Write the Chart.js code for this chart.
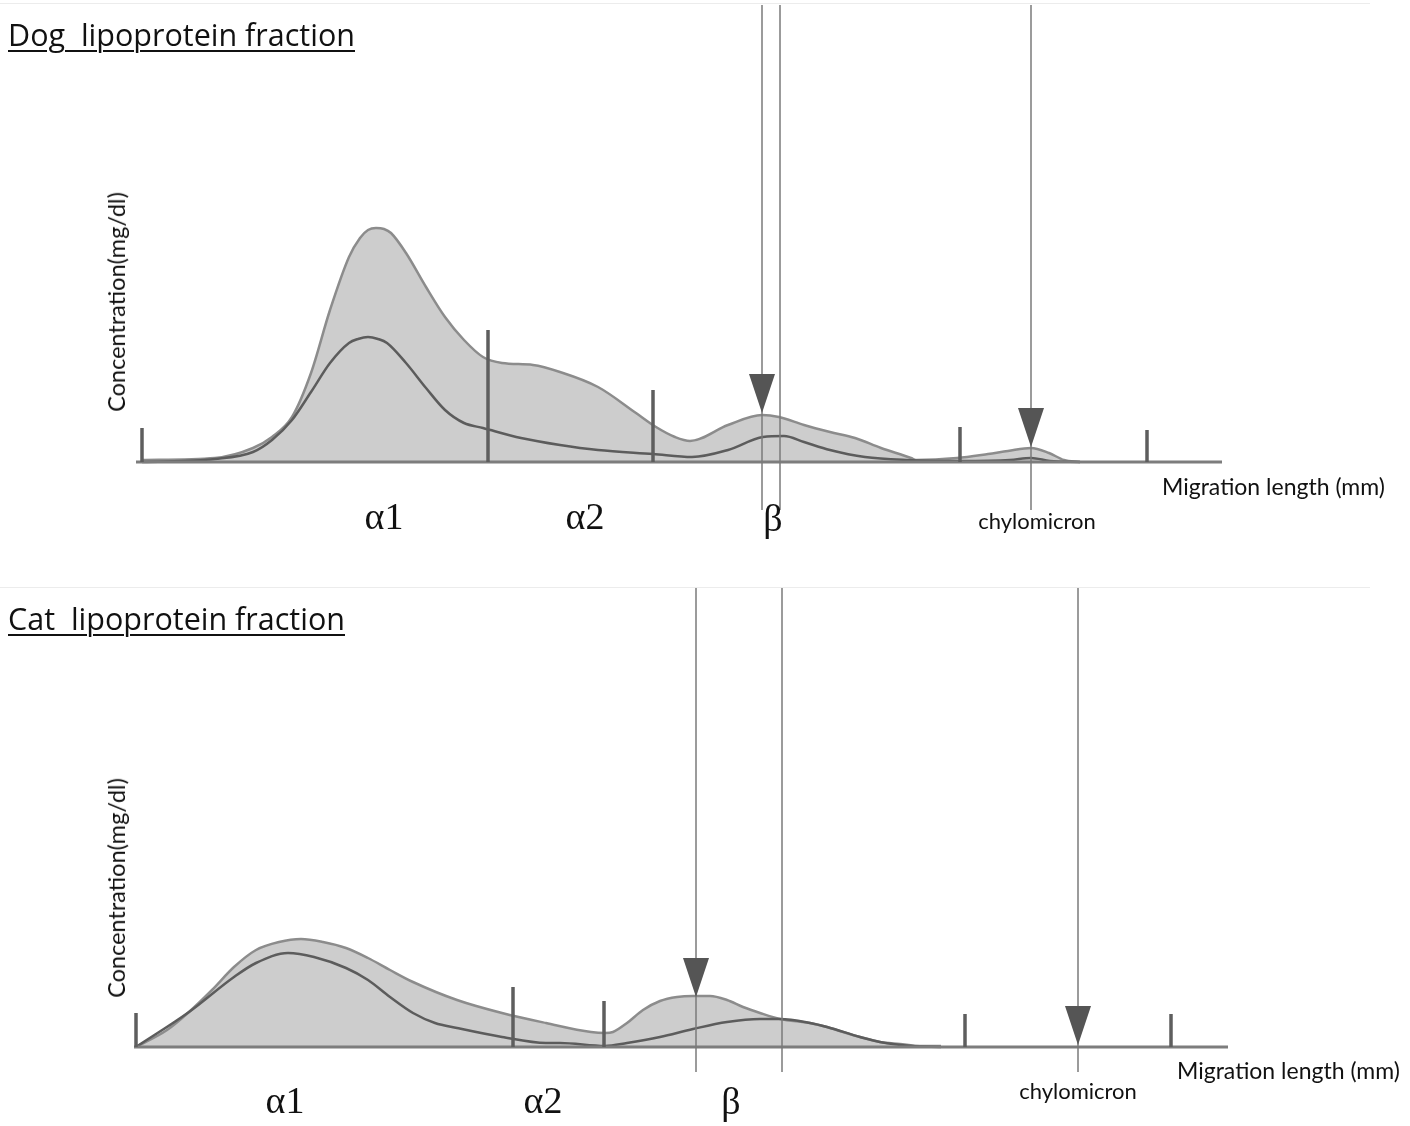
<!DOCTYPE html>
<html>
<head>
<meta charset="utf-8">
<script src="https://cdn.jsdelivr.net/npm/chart.js@4.4.1/dist/chart.umd.min.js"></script>
<style>
  body { margin: 0; background: #fff; width: 1410px; height: 1126px; position: relative; overflow: hidden; }
  canvas { position: absolute; left: 0; }
  .txt { position: absolute; white-space: nowrap; color: #111; }
  .title { font-family: "Open Sans", sans-serif; font-size: 30.5px; text-decoration: underline; text-decoration-thickness: 2px; text-underline-offset: 4px; left: 8px; }
  .ytitle { font-family: Lato, sans-serif; font-size: 23.5px; transform: translate(-50%, -50%) rotate(-90deg); }
  .xtitle { font-family: Lato, sans-serif; font-size: 23px; transform: translateY(-50%); }
  .frac { font-family: "Liberation Serif", serif; font-size: 38px; transform: translate(-50%, -50%); }
  .chylo { font-family: Lato, sans-serif; font-size: 22px; transform: translate(-50%, -50%); }
  .frame { position: absolute; left: 0; width: 1370px; border-top: 1px solid #ececec; }
</style>
</head>
<body>
<div class="frame" style="top:3px"></div>
<div class="frame" style="top:587px"></div>

<canvas id="dog" width="1410" height="570" style="top:0"></canvas>
<canvas id="cat" width="1410" height="546" style="top:580px"></canvas>

<div class="txt title" style="top:13px">Dog&nbsp;&nbsp;lipoprotein fraction</div>
<div class="txt ytitle" style="left:116px; top:302px">Concentration(mg/dl)</div>
<div class="txt xtitle" style="left:1162px; top:486px">Migration length (mm)</div>
<div class="txt frac" style="left:384px; top:516px">α1</div>
<div class="txt frac" style="left:585px; top:516px">α2</div>
<div class="txt frac" style="left:773px; top:518px">β</div>
<div class="txt chylo" style="left:1037px; top:520px">chylomicron</div>

<div class="txt title" style="top:597px">Cat&nbsp;&nbsp;lipoprotein fraction</div>
<div class="txt ytitle" style="left:116px; top:888px">Concentration(mg/dl)</div>
<div class="txt xtitle" style="left:1177px; top:1070px">Migration length (mm)</div>
<div class="txt frac" style="left:285px; top:1100px">α1</div>
<div class="txt frac" style="left:543px; top:1100px">α2</div>
<div class="txt frac" style="left:731px; top:1101px">β</div>
<div class="txt chylo" style="left:1078px; top:1090px">chylomicron</div>

<script>
// Dog: migration position and concentration (arbitrary units)
const dogTotalX = [0, 73, 111, 130, 150, 169, 188, 207, 218, 226, 234, 242, 249, 264, 284, 303, 322, 341, 360, 391, 418, 456, 494, 514, 533, 548, 586, 620, 637, 662, 688, 713, 739, 769, 774, 815, 846, 866, 889, 907, 922, 938];
const dogTotalY = [2, 4, 14, 25, 45, 89, 152, 205, 224, 232, 234, 233, 229, 209, 175, 145, 122, 105, 99, 97, 90, 75, 49, 35, 25, 21, 37, 47, 45, 37, 30, 24, 14, 4, 2, 4, 8, 11, 14, 9, 2, 0];
const dogInnerX = [0, 73, 111, 130, 150, 169, 188, 207, 216, 226, 236, 245, 264, 284, 303, 322, 341, 379, 418, 456, 511, 550, 586, 621, 642, 662, 688, 723, 764, 818, 868, 889, 908, 938];
const dogInnerY = [0, 3, 10, 22, 42, 70, 99, 119, 123, 125, 123, 119, 99, 74, 52, 39, 34, 24, 17, 12, 8, 5, 12, 25, 26, 20, 12, 5, 2, 1, 2, 4, 1, 0];
const dogMarkerX = [0, 346, 511, 818, 1005];
const dogMarkerH = [34, 132, 72, 35, 32];
const dogArrowX = [620, 638, 889];
const dogArrowTip = [49, null, 15];

// Cat
const catTotalX = [0, 31, 53, 76, 98, 120, 143, 165, 187, 210, 232, 254, 277, 321, 366, 410, 455, 469, 477, 491, 507, 524, 541, 557, 574, 591, 607, 624, 644, 674, 691, 707, 724, 744, 764, 784, 805];
const catTotalY = [0, 17, 35, 57, 80, 97, 105, 108, 105, 99, 89, 77, 65, 47, 34, 24, 15, 14, 15, 24, 37, 46, 50, 51, 51, 47, 40, 34, 28, 24, 20, 15, 10, 5, 3, 1, 1];
const catInnerX = [0, 53, 98, 120, 152, 178, 210, 232, 254, 277, 299, 321, 366, 410, 424, 469, 491, 524, 557, 591, 624, 644, 674, 691, 724, 744, 776, 805];
const catInnerY = [0, 35, 70, 84, 94, 90, 79, 67, 50, 34, 24, 19, 10, 4, 4, 1, 4, 10, 18, 25, 28, 28, 24, 20, 10, 5, 1, 0];
const catMarkerX = [0, 377, 468, 829, 1035];
const catMarkerH = [34, 60, 46, 33, 33];
const catArrowX = [560, 646, 942];
const catArrowTip = [50, null, 2];

function pts(xs, ys) {
    return xs.map((x, i) => ({ x: x, y: ys[i] }));
}

// arrow head drawn into a small canvas, tip sits at the image centre
const head = document.createElement('canvas');
head.width = 26;
head.height = 78;
const hctx = head.getContext('2d');
hctx.fillStyle = '#555';
hctx.beginPath();
hctx.moveTo(0, 0);
hctx.lineTo(26, 0);
hctx.lineTo(13, 39);
hctx.closePath();
hctx.fill();

function makePanel(id, p) {
    const datasets = [];
    datasets.push({
        data: pts(p.totalX, p.totalY),
        borderColor: '#8c8c8c', borderWidth: 2.5,
        backgroundColor: '#cdcdcd', fill: 'origin',
        cubicInterpolationMode: 'monotone', pointRadius: 0, order: 10
    });
    datasets.push({
        data: pts(p.innerX, p.innerY),
        borderColor: '#5c5c5c', borderWidth: 2.5, fill: false,
        cubicInterpolationMode: 'monotone', pointRadius: 0, order: 9
    });
    datasets.push({
        data: [{ x: p.xMin + 4, y: 0 }, { x: p.xMax, y: 0 }],
        borderColor: '#7d7d7d', borderWidth: 3, pointRadius: 0, order: 8
    });
    p.markerX.forEach((x, i) => {
        datasets.push({
            data: [{ x: x, y: 0 }, { x: x, y: p.markerH[i] }],
            borderColor: '#5e5e5e', borderWidth: 3.5, pointRadius: 0, order: 7
        });
    });
    p.arrowX.forEach((x, i) => {
        datasets.push({
            data: [{ x: x, y: p.yMin }, { x: x, y: p.yMax }],
            borderColor: '#7a7a7a', borderWidth: 1.5, pointRadius: 0, order: 6
        });
        if (p.arrowTip[i] !== null) {
            datasets.push({
                data: [{ x: x, y: p.arrowTip[i] }],
                showLine: false, pointStyle: head, pointRadius: 13, order: 5
            });
        }
    });

    return new Chart(document.getElementById(id), {
        type: 'line',
        data: { datasets: datasets },
        options: {
            responsive: false,
            animation: false,
            layout: { padding: p.padding, autoPadding: false },
            plugins: { legend: { display: false }, tooltip: { enabled: false } },
            scales: {
                x: { type: 'linear', min: p.xMin, max: p.xMax, display: false },
                y: { type: 'linear', min: p.yMin, max: p.yMax, display: false }
            }
        }
    });
}

makePanel('dog', {
    totalX: dogTotalX, totalY: dogTotalY, innerX: dogInnerX, innerY: dogInnerY,
    markerX: dogMarkerX, markerH: dogMarkerH, arrowX: dogArrowX, arrowTip: dogArrowTip,
    xMin: -10, xMax: 1080, yMin: -48, yMax: 457,
    padding: { left: 132, right: 188, top: 5, bottom: 60 }
});

makePanel('cat', {
    totalX: catTotalX, totalY: catTotalY, innerX: catInnerX, innerY: catInnerY,
    markerX: catMarkerX, markerH: catMarkerH, arrowX: catArrowX, arrowTip: catArrowTip,
    xMin: -6, xMax: 1092, yMin: -25, yMax: 459,
    padding: { left: 130, right: 182, top: 8, bottom: 54 }
});
</script>
</body>
</html>
